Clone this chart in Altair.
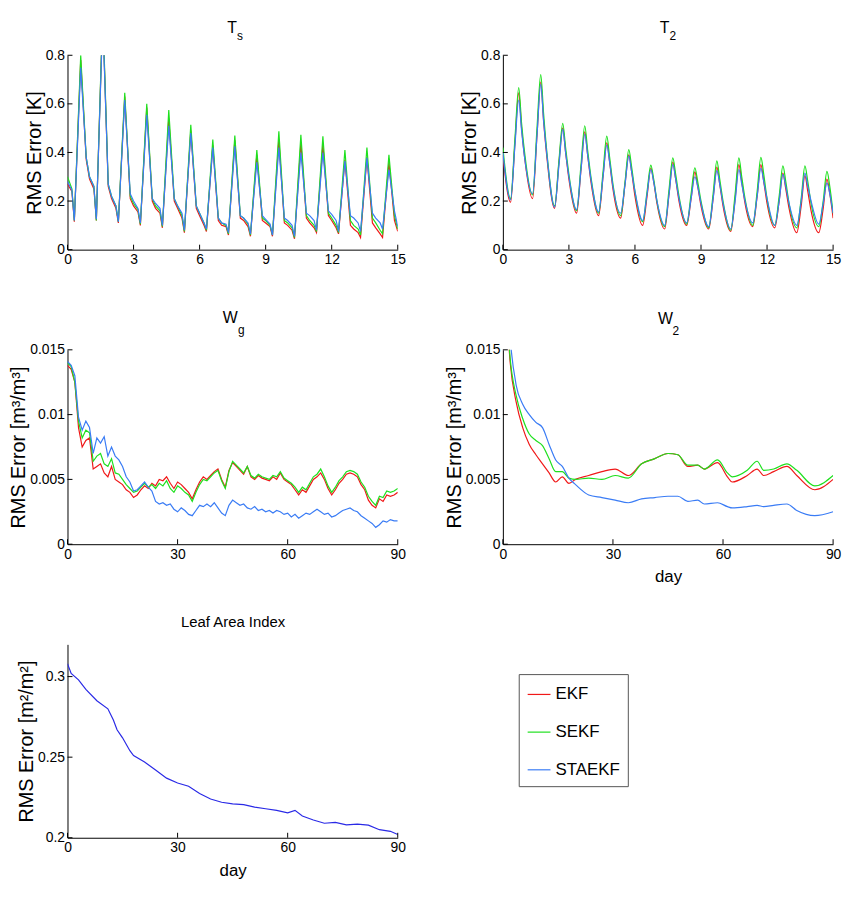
import altair as alt
import pandas as pd

SERIES = ["EKF", "SEKF", "STAEKF"]
COLORS = ["#f01818", "#1ee01e", "#3a7cf5"]
LAI_COLOR = "#2a2ae6"

FONT = "Liberation Sans, Arial, sans-serif"

# ---------------- Ts (surface temperature), 15 days ----------------
TS_OFFSETS = [0.0, 0.2, 0.31, 0.6, 0.85]
TS_EKF = [
    [0.27, 0.24, 0.115, 0.78, 0.37],
    [0.29, 0.25, 0.12, 0.97, 0.26],
    [0.21, 0.17, 0.11, 0.63, 0.21],
    [0.18, 0.155, 0.10, 0.585, 0.20],
    [0.17, 0.15, 0.09, 0.54, 0.20],
    [0.17, 0.13, 0.07, 0.49, 0.17],
    [0.14, 0.10, 0.075, 0.43, 0.12],
    [0.10, 0.095, 0.06, 0.45, 0.13],
    [0.12, 0.095, 0.055, 0.39, 0.12],
    [0.11, 0.095, 0.055, 0.453, 0.11],
    [0.10, 0.08, 0.045, 0.44, 0.13],
    [0.11, 0.09, 0.07, 0.433, 0.14],
    [0.12, 0.09, 0.065, 0.37, 0.10],
    [0.085, 0.07, 0.05, 0.38, 0.11],
    [0.09, 0.065, 0.05, 0.36, 0.12],
]
TS_SEKF = [
    [0.30, 0.25, 0.12, 0.80, 0.38],
    [0.30, 0.26, 0.12, 0.99, 0.27],
    [0.22, 0.18, 0.115, 0.646, 0.22],
    [0.19, 0.165, 0.105, 0.60, 0.21],
    [0.18, 0.16, 0.095, 0.575, 0.21],
    [0.18, 0.14, 0.075, 0.514, 0.18],
    [0.15, 0.11, 0.08, 0.453, 0.13],
    [0.11, 0.10, 0.065, 0.47, 0.14],
    [0.13, 0.105, 0.06, 0.41, 0.13],
    [0.12, 0.10, 0.06, 0.487, 0.12],
    [0.11, 0.09, 0.05, 0.473, 0.14],
    [0.12, 0.10, 0.075, 0.467, 0.15],
    [0.13, 0.10, 0.07, 0.41, 0.12],
    [0.10, 0.085, 0.06, 0.42, 0.13],
    [0.11, 0.08, 0.065, 0.39, 0.14],
]
TS_STAEKF = [
    [0.28, 0.245, 0.12, 0.75, 0.38],
    [0.30, 0.26, 0.125, 0.95, 0.27],
    [0.22, 0.18, 0.115, 0.616, 0.23],
    [0.20, 0.17, 0.11, 0.555, 0.21],
    [0.19, 0.17, 0.10, 0.51, 0.21],
    [0.18, 0.15, 0.08, 0.48, 0.18],
    [0.15, 0.11, 0.085, 0.42, 0.13],
    [0.11, 0.105, 0.07, 0.425, 0.14],
    [0.13, 0.11, 0.065, 0.36, 0.14],
    [0.125, 0.105, 0.06, 0.42, 0.13],
    [0.12, 0.10, 0.055, 0.40, 0.15],
    [0.14, 0.12, 0.08, 0.40, 0.16],
    [0.145, 0.12, 0.075, 0.365, 0.14],
    [0.13, 0.11, 0.075, 0.378, 0.15],
    [0.13, 0.11, 0.085, 0.33, 0.16],
]
TS_END = [0.075, 0.085, 0.095]

# ---------------- T2 (deep temperature), 15 days ----------------
T2_OFFSETS = [0.0, 0.35, 0.55, 0.72, 0.85]
T2_EKF = [
    [0.39, 0.195, 0.44, 0.645, 0.50],
    [0.37, 0.21, 0.47, 0.69, 0.53],
    [0.38, 0.17, 0.36, 0.50, 0.40],
    [0.29, 0.15, 0.33, 0.485, 0.39],
    [0.28, 0.14, 0.30, 0.44, 0.36],
    [0.25, 0.13, 0.27, 0.39, 0.32],
    [0.22, 0.10, 0.22, 0.335, 0.28],
    [0.19, 0.085, 0.23, 0.36, 0.29],
    [0.20, 0.10, 0.21, 0.32, 0.26],
    [0.18, 0.085, 0.21, 0.34, 0.27],
    [0.18, 0.075, 0.21, 0.35, 0.28],
    [0.19, 0.095, 0.22, 0.35, 0.28],
    [0.19, 0.09, 0.20, 0.315, 0.25],
    [0.17, 0.07, 0.18, 0.305, 0.24],
    [0.16, 0.07, 0.17, 0.29, 0.23],
]
T2_SEKF = [
    [0.42, 0.21, 0.46, 0.667, 0.52],
    [0.39, 0.225, 0.50, 0.72, 0.56],
    [0.40, 0.18, 0.37, 0.52, 0.42],
    [0.31, 0.16, 0.35, 0.51, 0.41],
    [0.30, 0.15, 0.32, 0.467, 0.38],
    [0.27, 0.14, 0.28, 0.412, 0.34],
    [0.24, 0.115, 0.24, 0.348, 0.29],
    [0.20, 0.095, 0.25, 0.378, 0.31],
    [0.22, 0.105, 0.23, 0.337, 0.28],
    [0.20, 0.09, 0.23, 0.365, 0.29],
    [0.20, 0.08, 0.23, 0.378, 0.30],
    [0.21, 0.10, 0.24, 0.38, 0.31],
    [0.21, 0.10, 0.22, 0.345, 0.28],
    [0.19, 0.09, 0.21, 0.345, 0.28],
    [0.19, 0.095, 0.20, 0.322, 0.26],
]
T2_STAEKF = [
    [0.40, 0.205, 0.43, 0.616, 0.49],
    [0.37, 0.23, 0.47, 0.68, 0.53],
    [0.39, 0.175, 0.35, 0.495, 0.40],
    [0.30, 0.165, 0.33, 0.475, 0.39],
    [0.29, 0.155, 0.30, 0.43, 0.36],
    [0.26, 0.15, 0.27, 0.385, 0.32],
    [0.24, 0.12, 0.23, 0.33, 0.28],
    [0.20, 0.10, 0.23, 0.35, 0.29],
    [0.21, 0.11, 0.21, 0.30, 0.26],
    [0.19, 0.095, 0.21, 0.325, 0.27],
    [0.19, 0.085, 0.20, 0.33, 0.27],
    [0.20, 0.11, 0.22, 0.335, 0.28],
    [0.21, 0.10, 0.20, 0.31, 0.26],
    [0.19, 0.10, 0.20, 0.315, 0.26],
    [0.20, 0.105, 0.19, 0.275, 0.23],
]
T2_END = [0.13, 0.15, 0.15]

# ---------------- Wg (surface soil moisture), 90 days ----------------
WG_DAYS = list(range(91))
WG_EKF = [
    0.0138, 0.0135, 0.0125, 0.0090, 0.0075, 0.0080, 0.0082, 0.0058, 0.0060, 0.0062,
    0.0055, 0.0052, 0.0060, 0.0050, 0.0048, 0.0046, 0.0042, 0.0040, 0.0036, 0.0038,
    0.0042, 0.0045, 0.0043, 0.0047, 0.0045, 0.0050, 0.0049, 0.0052, 0.0047, 0.0043,
    0.0048, 0.0046, 0.0043, 0.0040, 0.0035, 0.0042, 0.0048, 0.0052, 0.0050, 0.0053,
    0.0056, 0.0058, 0.0050, 0.0044, 0.0057, 0.0063, 0.0060, 0.0057, 0.0054, 0.0060,
    0.0052, 0.0050, 0.0053, 0.0051, 0.0050, 0.0049, 0.0052, 0.0050, 0.0055, 0.0050,
    0.0048, 0.0046, 0.0042, 0.0038, 0.0042, 0.0040, 0.0045, 0.0050, 0.0052, 0.0055,
    0.0050, 0.0043, 0.0038, 0.0042, 0.0047, 0.0050, 0.0054, 0.0055, 0.0054, 0.0052,
    0.0046, 0.0042, 0.0034, 0.0030, 0.0028, 0.0035, 0.0033, 0.0038, 0.0037, 0.0038,
    0.0040,
]
WG_SEKF = [
    0.0140, 0.0137, 0.0125, 0.0095, 0.0082, 0.0088, 0.0086, 0.0064, 0.0068, 0.0070,
    0.0062, 0.0060, 0.0066, 0.0055, 0.0054, 0.0050, 0.0046, 0.0043, 0.0040, 0.0041,
    0.0044, 0.0047, 0.0044, 0.0046, 0.0043, 0.0047, 0.0045, 0.0049, 0.0043, 0.0040,
    0.0045, 0.0043, 0.0040, 0.0038, 0.0033, 0.0040, 0.0046, 0.0050, 0.0049, 0.0052,
    0.0055, 0.0057, 0.0049, 0.0043, 0.0056, 0.0064, 0.0061, 0.0058, 0.0055, 0.0060,
    0.0053, 0.0051, 0.0054, 0.0052, 0.0051, 0.0050, 0.0053, 0.0052, 0.0056, 0.0051,
    0.0049, 0.0047, 0.0044, 0.0040, 0.0044, 0.0042, 0.0047, 0.0052, 0.0054, 0.0058,
    0.0052, 0.0045, 0.0040, 0.0044, 0.0049, 0.0052, 0.0056, 0.0057, 0.0056, 0.0054,
    0.0048, 0.0044, 0.0037, 0.0033, 0.0030, 0.0037, 0.0036, 0.0041, 0.0040, 0.0041,
    0.0043,
]
WG_STAEKF = [
    0.0141, 0.0138, 0.0130, 0.0098, 0.0088, 0.0095, 0.0090, 0.0070, 0.0082, 0.0078,
    0.0083, 0.0068, 0.0075, 0.0068, 0.0065, 0.0060, 0.0052, 0.0048, 0.0041, 0.0042,
    0.0045, 0.0048, 0.0044, 0.0041, 0.0033, 0.0031, 0.0032, 0.0030, 0.0031, 0.0027,
    0.0025, 0.0028, 0.0026, 0.0023, 0.0022, 0.0026, 0.0030, 0.0029, 0.0031, 0.0029,
    0.0032, 0.0028, 0.0024, 0.0022, 0.0030, 0.0034, 0.0032, 0.0030, 0.0031, 0.0028,
    0.0027, 0.0029, 0.0026, 0.0027, 0.0025, 0.0026, 0.0024, 0.0026, 0.0025, 0.0023,
    0.0024, 0.0021, 0.0023, 0.0020, 0.0022, 0.0024, 0.0023, 0.0025, 0.0027, 0.0025,
    0.0023, 0.0024, 0.0021, 0.0022, 0.0024, 0.0026, 0.0027, 0.0028, 0.0026, 0.0025,
    0.0022, 0.0020, 0.0018, 0.0016, 0.0013, 0.0015, 0.0018, 0.0017, 0.0019, 0.0018,
    0.0018,
]

# ---------------- W2 (root-zone soil moisture), 90 days ----------------
W2_DAYS = [0, 2, 3.6, 5.4, 7.2, 9, 10.8, 12.6, 14.4, 16.2, 18, 19.8, 23.4, 27, 30.6,
           34.2, 37.8, 41.4, 45, 47.7, 50.4, 53.1, 54.9, 58.5, 61.2, 62.5, 66.6,
           69.3, 71.1, 73.8, 77.4, 80.1, 85, 90]
W2_EKF = [0.024, 0.0140, 0.0110, 0.0090, 0.0077, 0.0069, 0.0062, 0.0055, 0.0048,
          0.0052, 0.0047, 0.0050, 0.0053, 0.0056, 0.0058, 0.0053, 0.0062, 0.0066,
          0.0070, 0.0069, 0.0060, 0.0061, 0.0058, 0.0063, 0.0052, 0.0048, 0.0053,
          0.0058, 0.0053, 0.0056, 0.0060, 0.0053, 0.0042, 0.0050]
W2_SEKF = [0.024, 0.0143, 0.0115, 0.0097, 0.0085, 0.0080, 0.0076, 0.0066, 0.0056,
           0.0056, 0.0051, 0.0050, 0.0051, 0.0050, 0.0053, 0.0051, 0.0062, 0.0066,
           0.0070, 0.0069, 0.0061, 0.0061, 0.0058, 0.0065, 0.0055, 0.0052, 0.0057,
           0.0064, 0.0057, 0.0058, 0.0062, 0.0057, 0.0045, 0.0053]
W2_STAEKF = [0.026, 0.0158, 0.0123, 0.0108, 0.0100, 0.0094, 0.0090, 0.0077, 0.0065,
             0.0060, 0.0051, 0.0046, 0.0038, 0.0036, 0.0034, 0.0032, 0.0035, 0.0036,
             0.0037, 0.0037, 0.0033, 0.0034, 0.0031, 0.0032, 0.0029, 0.0028, 0.0029,
             0.0030, 0.0029, 0.0030, 0.0031, 0.0026, 0.0022, 0.0025]

# ---------------- Leaf Area Index ----------------
LAI_DAYS = [0, 1, 3, 5, 8, 11, 12.5, 13.5, 15, 17, 18, 21, 24, 27, 30, 33, 36, 39,
            42, 45, 48, 51, 54, 57, 60, 62, 64, 67, 70, 73, 76, 79, 82, 85, 88, 90]
LAI_VALS = [0.308, 0.302, 0.298, 0.292, 0.285, 0.280, 0.273, 0.267, 0.262, 0.254,
            0.251, 0.247, 0.242, 0.237, 0.234, 0.232, 0.2275, 0.224, 0.222, 0.221,
            0.2205, 0.219, 0.218, 0.217, 0.2155, 0.217, 0.2135, 0.211, 0.209, 0.2095,
            0.208, 0.2085, 0.2078, 0.205, 0.204, 0.202]

# axes / titles text
TS_XTICKS = [0, 3, 6, 9, 12, 15]
TS_YTICKS = [0, 0.2, 0.4, 0.6, 0.8]
W_XTICKS = [0, 30, 60, 90]
W_YTICKS = [0, 0.005, 0.01, 0.015]
LAI_YTICKS = [0.2, 0.25, 0.3]
YT_K = "RMS Error [K]"
YT_M3 = "RMS Error [m³/m³]"
YT_M2 = "RMS Error [m²/m²]"
XT_DAY = "day"
TITLE_TS = ["T", "s"]
TITLE_T2 = ["T", "2"]
TITLE_WG = ["W", "g"]
TITLE_W2 = ["W", "2"]
TITLE_LAI = ["Leaf Area Index"]

W, H = 333, 196
LABEL_EXPR = "toString(datum.value)"


def daily_frame(offsets, rows_by_series, ends):
    recs = []
    for name, rows, end in zip(SERIES, rows_by_series, ends):
        for d, row in enumerate(rows):
            for off, v in zip(offsets, row):
                recs.append({"x": d + off, "v": v, "series": name})
        recs.append({"x": len(rows), "v": end, "series": name})
    return pd.DataFrame(recs)


def series_frame(days, vals_by_series):
    recs = []
    for name, vals in zip(SERIES, vals_by_series):
        for x, v in zip(days, vals):
            recs.append({"x": x, "v": v, "series": name})
    return pd.DataFrame(recs)


LEGEND = alt.Legend(
    orient="none", legendX=455, legendY=624, title=None,
    labelFont=FONT, labelFontSize=17, labelColor="black",
    symbolType="stroke", symbolSize=529, symbolStrokeWidth=1.2,
    strokeColor="#555555", fillColor="white", padding=8,
    rowPadding=17, labelOffset=4, direction="vertical",
)


def panel(df, xdom, xticks, ydom, yticks, ytitle, title_parts, xtitle=None,
          single_color=None, height=H, interp="linear"):
    xscale = alt.Scale(domain=xdom, nice=False, zero=False)
    yscale = alt.Scale(domain=ydom, nice=False, zero=False)
    xaxis = alt.Axis(values=xticks, labelExpr=LABEL_EXPR, title=xtitle)
    yaxis = alt.Axis(values=yticks, labelExpr=LABEL_EXPR, title=ytitle)
    enc = dict(x=alt.X("x:Q", scale=xscale, axis=xaxis),
               y=alt.Y("v:Q", scale=yscale, axis=yaxis))
    if single_color:
        line = alt.Chart(df).mark_line(clip=True, strokeWidth=1.2, interpolate=interp,
                                       color=single_color).encode(**enc)
    else:
        line = alt.Chart(df).mark_line(clip=True, strokeWidth=1.2,
                                       interpolate=interp).encode(
            color=alt.Color("series:N", scale=alt.Scale(domain=SERIES, range=COLORS),
                            legend=LEGEND),
            **enc)
    xt = alt.Chart(pd.DataFrame({"x": xticks})).mark_rule(
        color="black", strokeWidth=1).encode(
        x=alt.X("x:Q", scale=xscale, axis=xaxis),
        y=alt.value(height), y2=alt.value(height - 5))
    yt = alt.Chart(pd.DataFrame({"v": yticks})).mark_rule(
        color="black", strokeWidth=1).encode(
        y=alt.Y("v:Q", scale=yscale, axis=yaxis),
        x=alt.value(0), x2=alt.value(5))
    texts = []
    for txt, px, py, fs, al in title_parts:
        texts.append(
            alt.Chart(pd.DataFrame({"t": [txt]})).mark_text(
                font=FONT, fontSize=fs, align=al, baseline="alphabetic",
                color="black").encode(text="t:N", x=alt.value(px), y=alt.value(py)))
    return alt.layer(line, xt, yt, *texts).properties(width=W, height=height)


ts = panel(daily_frame(TS_OFFSETS, [TS_EKF, TS_SEKF, TS_STAEKF], TS_END),
           [0, 15], TS_XTICKS, [0, 0.8], TS_YTICKS, YT_K,
           [(TITLE_TS[0], 166, -22, 16, "center"), (TITLE_TS[1], 171, -15, 12, "left")])
t2 = panel(daily_frame(T2_OFFSETS, [T2_EKF, T2_SEKF, T2_STAEKF], T2_END),
           [0, 15], TS_XTICKS, [0, 0.8], TS_YTICKS, YT_K,
           [(TITLE_T2[0], 163, -22, 16, "center"), (TITLE_T2[1], 168, -15, 12, "left")],
           interp="monotone")
wg = panel(series_frame(WG_DAYS, [WG_EKF, WG_SEKF, WG_STAEKF]),
           [0, 90], W_XTICKS, [0, 0.015], W_YTICKS, YT_M3,
           [(TITLE_WG[0], 164, -27, 16, "center"), (TITLE_WG[1], 172, -16, 12, "left")])
w2 = panel(series_frame(W2_DAYS, [W2_EKF, W2_SEKF, W2_STAEKF]),
           [0, 90], W_XTICKS, [0, 0.015], W_YTICKS, YT_M3,
           [(TITLE_W2[0], 164, -26, 16, "center"), (TITLE_W2[1], 171, -15, 12, "left")],
           xtitle=XT_DAY, interp="monotone")
lai = panel(pd.DataFrame({"x": LAI_DAYS, "v": LAI_VALS}),
            [0, 90], W_XTICKS, [0.2, 0.32], LAI_YTICKS, YT_M2,
            [(TITLE_LAI[0], 167, -17, 15, "center")],
            xtitle=XT_DAY, single_color=LAI_COLOR, height=195)

chart = alt.concat(
    ts, t2, wg, w2, lai, columns=2,
    spacing={"row": 101, "column": 106}, bounds="flush",
).properties(
    padding={"left": 0, "top": 9, "right": 5, "bottom": 5},
    background="white",
).configure_view(stroke=None).configure_axis(
    domainColor="black", domainWidth=1, labelColor="black", labelFont=FONT,
    labelFontSize=14, ticks=False, grid=False, titleColor="black",
    titleFontWeight="normal", labelOverlap=False,
).configure_axisX(
    titleFont=FONT, titleFontSize=17, titlePadding=8, labelPadding=3,
    labelFlush=False,
).configure_axisY(
    titleFont=FONT, titleFontSize=20, titlePadding=1, labelPadding=3,
)

chart.save("out.html", embed_options={"renderer": "svg", "actions": False})
